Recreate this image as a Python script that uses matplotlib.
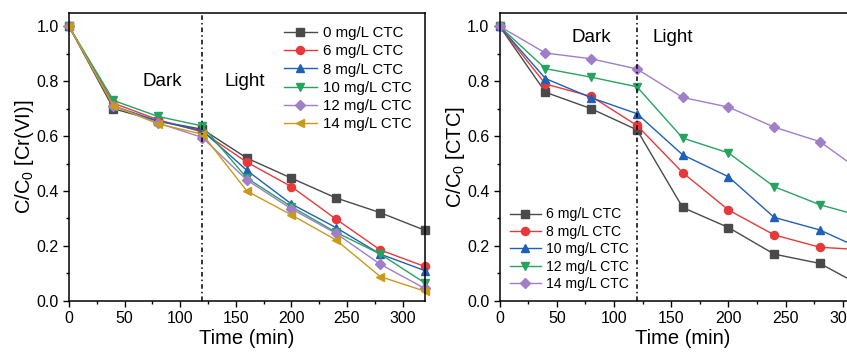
import numpy as np
import matplotlib
matplotlib.use("Agg")
from matplotlib import pyplot as plt
from matplotlib.ticker import MultipleLocator

plt.rcParams['font.family'] = ['Liberation Sans', 'DejaVu Sans']
plt.rcParams['mathtext.default'] = 'regular'

# Sampling times (min).
time = [0, 40, 80, 120, 160, 200, 240, 280, 320]

# Cr(VI) removal at each CTC dose.
crLabels = ['0 mg/L CTC', '6 mg/L CTC', '8 mg/L CTC',
            '10 mg/L CTC', '12 mg/L CTC', '14 mg/L CTC']
cr0  = [1.0, 0.700, 0.655, 0.625, 0.520, 0.447, 0.375, 0.321, 0.257]
cr6  = [1.0, 0.720, 0.660, 0.615, 0.505, 0.416, 0.298, 0.185, 0.125]
cr8  = [1.0, 0.710, 0.655, 0.620, 0.475, 0.353, 0.267, 0.170, 0.110]
cr10 = [1.0, 0.730, 0.672, 0.637, 0.447, 0.343, 0.250, 0.170, 0.065]
cr12 = [1.0, 0.710, 0.648, 0.595, 0.440, 0.335, 0.246, 0.133, 0.045]
cr14 = [1.0, 0.711, 0.645, 0.607, 0.400, 0.313, 0.222, 0.088, 0.035]

# CTC removal at each CTC dose.
ctcLabels = ['6 mg/L CTC', '8 mg/L CTC', '10 mg/L CTC',
             '12 mg/L CTC', '14 mg/L CTC']
ctc6  = [1.0, 0.760, 0.700, 0.623, 0.340, 0.267, 0.170, 0.136, 0.046]
ctc8  = [1.0, 0.790, 0.745, 0.639, 0.467, 0.331, 0.240, 0.195, 0.185]
ctc10 = [1.0, 0.810, 0.740, 0.682, 0.532, 0.452, 0.304, 0.258, 0.182]
ctc12 = [1.0, 0.846, 0.815, 0.780, 0.593, 0.539, 0.416, 0.350, 0.304]
ctc14 = [1.0, 0.903, 0.882, 0.845, 0.741, 0.706, 0.633, 0.580, 0.460]

# Line colours and markers.
colors  = ['#4a4a4a', '#e8393a', '#2060b8', '#27a35f', '#a07ec8', '#c99a1a']
markers = ['s', 'o', '^', 'v', 'D', '<']
msizes  = [5.2, 5.8, 5.8, 5.8, 4.8, 5.8]


def StyleAxis(ax, ylabel):
    ax.set_xlim(0, 320)
    ax.set_ylim(0, 1.05)
    ax.xaxis.set_major_locator(MultipleLocator(50))
    ax.xaxis.set_minor_locator(MultipleLocator(25))
    ax.yaxis.set_major_locator(MultipleLocator(0.2))
    ax.yaxis.set_minor_locator(MultipleLocator(0.1))
    ax.tick_params(which='both', direction='out', width=1.0, labelsize=11.5)
    ax.tick_params(which='major', length=4)
    ax.tick_params(which='minor', length=2.5)
    for s in ax.spines.values():
        s.set_linewidth(1.1)
    ax.set_xlabel('Time (min)', fontsize=14.5, labelpad=2)
    ax.set_ylabel(ylabel, fontsize=14.5, labelpad=0)
    ax.axvline(120, color='black', lw=1.1, linestyle=(0, (3, 2, 1, 2)))


def StyleLegend(ax, loc, size, spacing, pad):
    ax.legend(loc=loc, frameon=False, fontsize=size, handlelength=2.25,
              handletextpad=0.35, labelspacing=spacing, borderaxespad=pad)


fig = plt.figure(figsize=(8.47, 3.53), dpi=100)

# Left panel: Cr(VI).
ax1 = fig.add_axes([0.0815, 0.148, 0.420, 0.816])
crData = [cr0, cr6, cr8, cr10, cr12, cr14]
for k in range(len(crData)):
    ax1.plot(time, crData[k], color=colors[k], marker=markers[k],
             markersize=msizes[k], lw=1.0, label=crLabels[k], clip_on=False)
StyleAxis(ax1, 'C/C$_0$ [Cr(VI)]')
ax1.text(84, 0.80, 'Dark', fontsize=13.5, ha='center', va='center')
ax1.text(158, 0.80, 'Light', fontsize=13.5, ha='center', va='center')
StyleLegend(ax1, 'upper right', 10.8, 0.28, 0.5)

# Right panel: CTC, runs past the right edge of the canvas.
ax2 = fig.add_axes([0.590, 0.148, 0.432, 0.816])
ctcData = [ctc6, ctc8, ctc10, ctc12, ctc14]
for k in range(len(ctcData)):
    ax2.plot(time, ctcData[k], color=colors[k], marker=markers[k],
             markersize=msizes[k], lw=1.0, label=ctcLabels[k], clip_on=False)
StyleAxis(ax2, 'C/C$_0$ [CTC]')
ax2.text(80.5, 0.96, 'Dark', fontsize=13.5, ha='center', va='center')
ax2.text(151, 0.96, 'Light', fontsize=13.5, ha='center', va='center')
StyleLegend(ax2, 'lower left', 10.1, 0.24, 0.3)

fig.savefig('out.png', dpi=100)
